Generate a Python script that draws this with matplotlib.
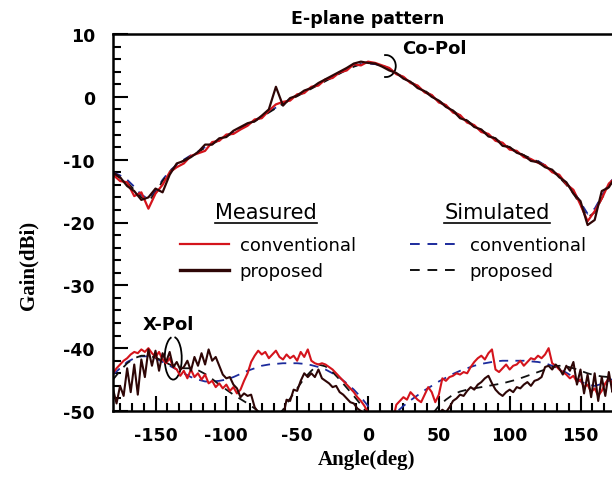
import matplotlib
matplotlib.use('Agg')
import matplotlib.pyplot as plt
from matplotlib.patches import Arc
from matplotlib.lines import Line2D
from matplotlib.ticker import MultipleLocator
import numpy as np

plt.rcParams['axes.unicode_minus'] = False

# angle grids (deg)
ang5 = np.arange(-180, 181, 5)
ang25 = np.arange(-180, 180.1, 2.5)

# ---- Co-pol, simulated (5 deg steps)
sim_conv_co = [-12.0, -12.5, -13.2, -14.3, -15.6, -16.2, -15.0, -13.2, -11.8, -10.8,
               -10.0, -9.3, -8.7, -8.0, -7.4, -6.8, -6.2, -5.6, -5.0, -4.4,
               -3.8, -3.1, -2.4, -1.7, -1.0, -0.4, 0.2, 0.8, 1.4, 2.0,
               2.6, 3.2, 3.8, 4.4, 4.9, 5.2, 5.3, 5.2, 4.9, 4.4,
               3.7, 3.0, 2.3, 1.6, 0.9, 0.1, -0.7, -1.5, -2.3, -3.1,
               -3.9, -4.7, -5.4, -6.1, -6.8, -7.5, -8.2, -8.8, -9.4, -9.9,
               -10.2, -10.9, -11.7, -12.6, -13.7, -15.0, -16.8, -18.6, -17.8, -15.8,
               -13.8, -12.6, -12.0]
sim_prop_co = [-12.3, -12.9, -13.6, -14.8, -16.0, -16.6, -15.3, -13.4, -11.9, -10.9,
               -10.1, -9.4, -8.8, -8.1, -7.5, -6.9, -6.3, -5.7, -5.1, -4.5,
               -3.9, -3.2, -2.5, -1.8, -1.1, -0.5, 0.1, 0.7, 1.3, 1.9,
               2.5, 3.1, 3.7, 4.3, 4.8, 5.2, 5.4, 5.3, 5.0, 4.5,
               3.8, 3.1, 2.4, 1.7, 1.0, 0.2, -0.6, -1.4, -2.2, -3.0,
               -3.8, -4.6, -5.3, -6.0, -6.7, -7.4, -8.1, -8.7, -9.3, -9.8,
               -10.3, -11.0, -11.8, -12.8, -14.0, -15.4, -17.2, -19.2, -18.4, -16.2,
               -14.2, -12.9, -12.3]

# ---- Co-pol, measured (5 deg steps)
meas_conv_co = [-12.4, -13.4, -13.6, -15.8, -15.2, -17.8, -15.4, -14.0, -12.0, -11.2,
                -10.6, -9.4, -9.0, -8.6, -7.2, -7.0, -6.0, -5.9, -5.2, -4.6,
                -3.6, -3.4, -2.2, -1.2, -0.8, -0.6, 0.4, 0.6, 1.6, 1.8,
                2.8, 3.0, 3.9, 4.2, 5.2, 5.0, 5.6, 5.4, 5.0, 4.6,
                3.6, 3.2, 2.2, 1.8, 0.7, 0.3, -0.9, -1.3, -2.5, -2.9,
                -4.1, -4.5, -5.6, -5.9, -7.0, -7.3, -8.4, -8.6, -9.6, -9.9,
                -10.5, -10.9, -12.0, -12.4, -13.9, -14.8, -17.2, -19.8, -18.2, -16.2,
                -13.8, -12.8, -12.2]
meas_prop_co = [-12.0, -12.8, -14.2, -15.0, -16.4, -16.0, -14.6, -15.2, -12.4, -10.6,
                -10.2, -9.6, -8.8, -7.6, -7.6, -6.6, -6.4, -5.4, -4.8, -4.2,
                -3.9, -3.0, -2.0, 1.6, -1.4, -0.2, 0.2, 1.0, 1.4, 2.2,
                2.8, 3.4, 4.0, 4.6, 5.3, 5.6, 5.4, 5.3, 4.8, 4.2,
                3.8, 2.9, 2.4, 1.4, 0.9, 0.0, -0.6, -1.6, -2.2, -3.4,
                -3.8, -4.8, -5.2, -6.3, -6.6, -7.8, -8.0, -8.9, -9.3, -10.2,
                -10.4, -11.2, -11.6, -12.8, -13.6, -15.4, -16.6, -20.4, -19.6, -15.0,
                -14.4, -12.6, -13.0]

# ---- X-pol, simulated (5 deg steps)
sim_conv_x = [-44.2, -43.2, -42.2, -41.6, -41.3, -41.3, -41.6, -42.2, -42.8, -43.4,
              -44.0, -44.6, -45.0, -45.3, -45.3, -45.2, -45.0, -44.6, -44.1, -43.6,
              -43.2, -42.8, -42.6, -42.5, -42.4, -42.4, -42.4, -42.5, -42.7, -43.0,
              -43.4, -44.0, -44.7, -45.6, -46.6, -47.8, -49.2, -51.0, -53.0, -53.0,
              -50.2, -49.2, -48.3, -47.5, -46.7, -46.0, -45.3, -44.7, -44.1, -43.6,
              -43.2, -42.8, -42.5, -42.3, -42.1, -42.0, -42.0, -42.0, -42.0, -42.1,
              -42.2, -42.4, -42.8, -43.3, -43.9, -44.6, -45.3, -45.8, -46.0, -45.7,
              -45.2, -44.7, -44.2]
sim_prop_x = [-45.0, -43.6, -42.4, -41.6, -41.2, -41.2, -41.5, -42.0, -42.6, -43.0,
              -43.2, -43.2, -43.5, -44.1, -44.9, -45.8, -46.6, -47.4, -48.1, -48.8,
              -49.6, -50.5, -51.5, -51.0, -49.8, -48.0, -46.4, -44.8, -43.6, -42.6,
              -42.9, -43.8, -45.0, -46.3, -47.6, -49.0, -50.5, -52.0, -52.0, -52.0,
              -52.0, -52.0, -52.0, -52.0, -52.0, -50.6, -49.2, -48.2, -47.4, -46.9,
              -46.6, -46.4, -46.2, -46.0, -45.8, -45.6, -45.3, -45.0, -44.6, -44.2,
              -43.8, -43.4, -43.0, -42.8, -42.9, -43.2, -43.6, -44.0, -44.3, -44.5,
              -44.6, -44.6, -44.5]

# ---- X-pol, measured (2.5 deg steps)
meas_conv_x = [-44.0, -43.2, -42.6, -42.0, -41.6, -41.0, -40.6, -40.8, -40.2, -40.6,
               -40.0, -40.8, -41.4, -40.6, -41.8, -42.4, -41.6, -43.0, -43.4, -44.4,
               -43.6, -44.8, -43.4, -44.6, -44.0, -45.0, -44.2, -45.6, -45.2, -46.2,
               -45.6, -46.4, -45.8, -46.8, -46.2, -47.2, -46.6, -45.2, -44.0, -42.2,
               -41.2, -40.4, -41.0, -40.6, -41.6, -41.0, -40.4, -41.4, -41.8, -41.0,
               -41.6, -41.2, -42.0, -40.6, -41.4, -40.2, -42.0, -42.4, -42.6, -42.4,
               -42.6, -43.0, -43.4, -44.0, -44.6, -45.2, -45.8, -46.4, -47.0, -47.8,
               -48.4, -49.2, -50.2, -51.0, -52.0, -52.0, -52.0, -52.0, -52.0, -51.5,
               -49.0, -48.4, -47.8, -48.2, -47.0, -47.6, -48.2, -48.6, -47.4, -46.2,
               -47.0, -48.6, -47.4, -44.8, -45.2, -44.6, -44.4, -44.0, -44.2, -43.8,
               -44.0, -43.0, -42.2, -41.6, -41.2, -41.8, -40.8, -40.2, -43.4, -43.8,
               -43.2, -42.6, -43.4, -42.8, -42.6, -42.0, -42.8, -42.2, -41.6, -41.8,
               -41.2, -41.6, -41.0, -40.0, -42.4, -42.8, -43.4, -43.8, -44.2, -44.8,
               -44.4, -45.4, -45.0, -46.2, -45.8, -47.0, -46.4, -47.6, -46.8, -45.6,
               -44.8, -45.6, -44.6, -43.8, -44.0]
meas_prop_x = [-46.5, -48.8, -46.0, -47.6, -43.2, -47.0, -42.6, -47.4, -41.8, -44.6,
               -40.2, -42.8, -40.4, -43.6, -40.8, -42.2, -40.6, -43.0, -42.2, -43.4,
               -43.0, -42.0, -43.6, -41.4, -42.8, -40.8, -42.6, -40.2, -42.0, -41.4,
               -42.8, -44.2, -44.8, -44.6, -45.8, -46.4, -47.8, -47.2, -47.6, -47.4,
               -49.4, -50.2, -51.0, -52.0, -52.0, -52.0, -52.0, -52.0, -51.0, -48.2,
               -48.4, -46.6, -46.8, -45.2, -44.0, -44.6, -44.0, -44.6, -43.4, -44.8,
               -45.2, -45.6, -46.2, -46.0, -47.0, -47.4, -48.0, -48.6, -48.8, -49.6,
               -50.0, -52.0, -52.0, -52.0, -52.0, -52.0, -52.0, -52.0, -52.0, -52.0,
               -52.0, -52.0, -52.0, -52.0, -52.0, -52.0, -52.0, -52.0, -52.0, -52.0,
               -51.0, -50.0, -50.4, -49.8, -50.2, -49.4, -48.4, -48.0, -47.4, -47.6,
               -46.8, -46.2, -46.6, -45.8, -45.4, -44.8, -44.4, -45.6, -46.6, -47.2,
               -47.6, -47.0, -46.6, -47.0, -46.2, -46.4, -45.8, -45.4, -46.0, -45.2,
               -45.0, -44.6, -43.0, -42.8, -43.4, -42.6, -43.2, -44.2, -42.8, -43.6,
               -42.2, -45.8, -43.4, -47.2, -44.2, -47.8, -44.0, -48.4, -44.6, -47.6,
               -43.8, -47.0, -45.2, -46.0, -45.2]

RED = '#d4141c'
DARK = '#2e0606'
BLUE = '#1c2b9c'
BLK = '#111111'

fig = plt.figure(figsize=(6.12, 4.89), dpi=100)
# axes runs past the right edge like the cropped original
ax = fig.add_axes([113 / 612, 1 - 412 / 489, 510 / 612, 377 / 489])

dash = (0, (5, 4))
ax.plot(ang5, sim_conv_co, color=BLUE, lw=1.3, ls=dash)
ax.plot(ang5, sim_prop_co, color=BLK, lw=1.3, ls=dash)
ax.plot(ang5, meas_conv_co, color=RED, lw=1.6)
ax.plot(ang5, meas_prop_co, color=DARK, lw=1.6)

ax.plot(ang5, sim_conv_x, color=BLUE, lw=1.3, ls=dash)
ax.plot(ang5, sim_prop_x, color=BLK, lw=1.3, ls=dash)
ax.plot(ang25, meas_conv_x, color=RED, lw=1.5)
ax.plot(ang25, meas_prop_x, color=DARK, lw=1.5)

ax.set_xlim(-180, 180)
ax.set_ylim(-50, 10)
ax.xaxis.set_major_locator(MultipleLocator(50))
ax.xaxis.set_minor_locator(MultipleLocator(50 / 6))
ax.yaxis.set_major_locator(MultipleLocator(10))
ax.yaxis.set_minor_locator(MultipleLocator(2))
ax.tick_params(which='both', direction='in', width=1.5, color='black')
ax.tick_params(which='major', length=11)
ax.tick_params(which='minor', length=6)
ax.tick_params(axis='y', which='major', pad=13)
ax.tick_params(axis='x', which='major', pad=11)
ax.spines['right'].set_visible(False)
for s in ['left', 'top', 'bottom']:
    ax.spines[s].set_linewidth(1.8)
for lab in ax.get_xticklabels() + ax.get_yticklabels():
    lab.set_fontweight('bold')
    lab.set_fontsize(12.5)

ax.set_title('E-plane pattern', fontsize=12.5, fontweight='bold', pad=8)

fig.text(367 / 612, 1 - 460 / 489, 'Angle(deg)', ha='center', va='center',
         family='Liberation Serif', fontweight='bold', fontsize=15)
fig.text(28 / 612, 1 - 265 / 489, 'Gain(dBi)', ha='center', va='center', rotation=90,
         family='Liberation Serif', fontweight='bold', fontsize=15)

# annotations
ax.text(24, 7.7, 'Co-Pol', fontsize=13, fontweight='bold', ha='left', va='center')
ax.add_patch(Arc((12.6, 4.9), 14, 3.5, theta1=-125, theta2=125, color='black', lw=1.3))
ax.text(-159, -36.2, 'X-Pol', fontsize=13, fontweight='bold', ha='left', va='center')
ax.add_patch(Arc((-137.5, -41.6), 12, 6.8, theta1=-250, theta2=75, color='black', lw=1.3))

# legends
h_meas = [Line2D([], [], color=RED, lw=1.6), Line2D([], [], color=DARK, lw=2.4)]
h_sim = [Line2D([], [], color=BLUE, lw=1.4, ls=dash), Line2D([], [], color=BLK, lw=1.4, ls=dash)]
labels = ['conventional', 'proposed']
kw = dict(frameon=False, fontsize=13, handlelength=2.7, handletextpad=0.6,
          labelspacing=0.45, borderpad=0, borderaxespad=0, loc='upper left')
leg1 = ax.legend(h_meas, labels, bbox_to_anchor=((180 - 113) / 510, (412 - 237) / 377), **kw)
ax.add_artist(leg1)
ax.legend(h_sim, labels, bbox_to_anchor=((410 - 113) / 510, (412 - 237) / 377), **kw)

t1 = fig.text(266 / 612, 1 - 213 / 489, 'Measured', ha='center', va='center', fontsize=15)
t2 = fig.text(497 / 612, 1 - 213 / 489, 'Simulated', ha='center', va='center', fontsize=15)
fig.canvas.draw()
for t in (t1, t2):
    bb = t.get_window_extent()
    fig.add_artist(Line2D([bb.x0 / 612, bb.x1 / 612], [(bb.y0 - 1) / 489, (bb.y0 - 1) / 489],
                          color='black', lw=1.2, transform=fig.transFigure))

fig.savefig('out.png', dpi=100)
